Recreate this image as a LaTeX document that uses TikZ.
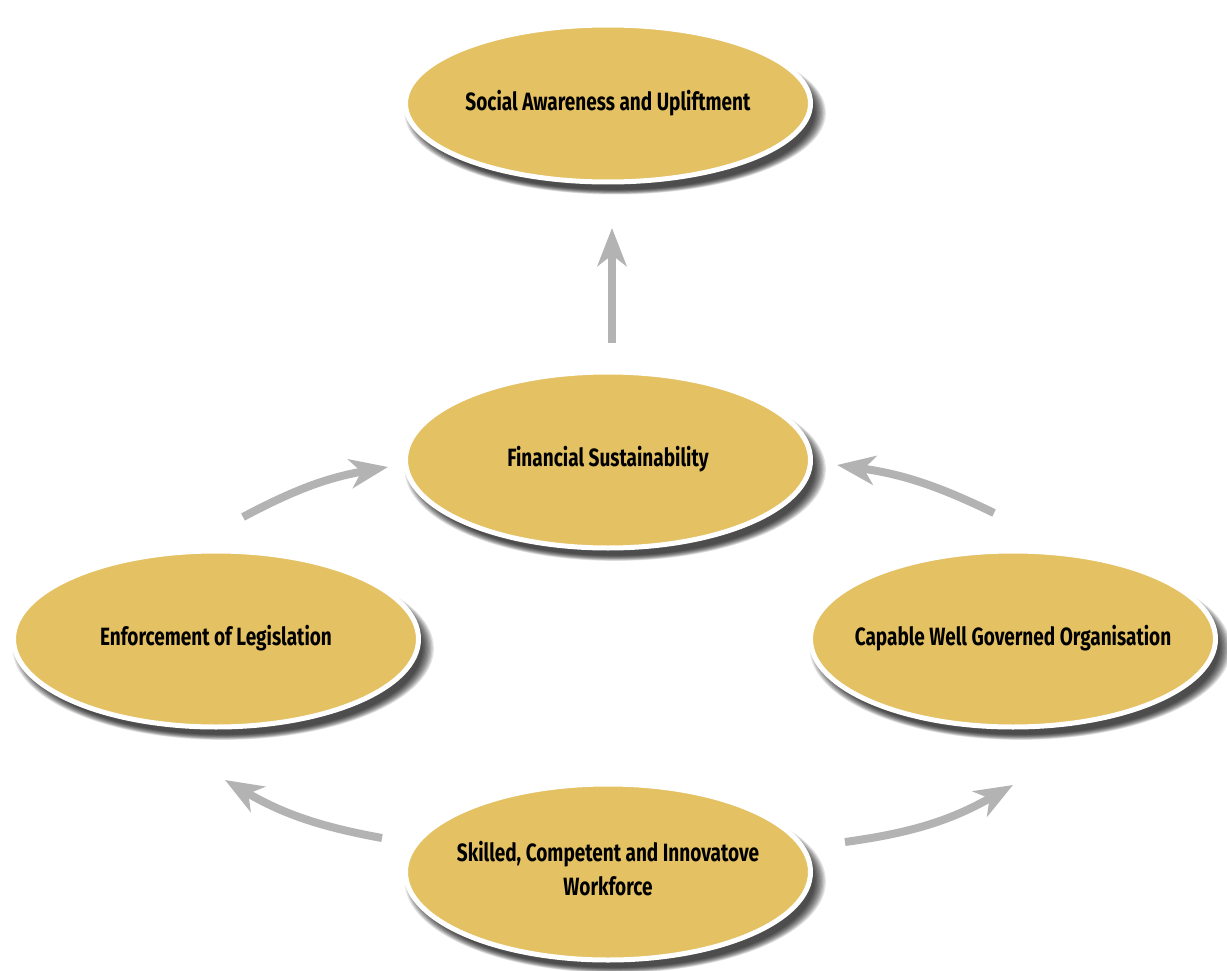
\documentclass[tikz,border=0pt]{standalone}
\usepackage{fontspec}
\setmainfont{Fira Sans}[FakeStretch=0.76]
\usetikzlibrary{shapes.geometric,shadows,arrows.meta}
\definecolor{gold}{HTML}{E4C163}
\definecolor{arrowgray}{HTML}{B3B3B3}
\newcommand\ovaltext[1]{\makebox[0pt]{\begin{tabular}{@{}c@{}}#1\end{tabular}}}
\tikzset{
  sh/.style={general shadow={draw=none,fill=black,fill opacity=0.11,shadow xshift=7pt,shadow yshift=-9pt,shadow scale=#1}},
  softshadow/.style={sh=1.04, sh=1.034, sh=1.028, sh=1.022, sh=1.016, sh=1.010, sh=1.004, sh=0.998, sh=0.992, sh=0.986},
  oval/.style={ellipse, softshadow, fill=gold, draw=white, line width=5pt,
    minimum width=405pt, minimum height=176pt, inner sep=0pt,
    text=black, font=\fontsize{25}{34}\selectfont\bfseries},
  flow/.style={draw=arrowgray, line width=8pt,
    -{Stealth[length=38pt,width=29pt,inset=11pt]}}
}
\begin{document}
\begin{tikzpicture}[x=1pt,y=-1pt]
\useasboundingbox[fill=white] (0,0) rectangle (1227,971);
\node[oval, minimum height=157pt] (top) at (608,103.5) {\ovaltext{Social Awareness and Upliftment}};
\node[oval] (fin) at (608,460) {\ovaltext{Financial Sustainability}};
\node[oval] (enf) at (216,639) {\ovaltext{Enforcement of Legislation}};
\node[oval] (cap) at (1013,639) {\ovaltext{Capable Well Governed Organisation}};
\node[oval] (skl) at (608,872) {\ovaltext{Skilled, Competent and Innovatove\\Workforce}};
\coordinate (a0s) at (612,343);
\coordinate (a0e) at (612,228);
\coordinate (a1s) at (243,517);
\coordinate (a1e) at (388,467);
\coordinate (a2s) at (994,513);
\coordinate (a2e) at (837,465);
\coordinate (a3s) at (382,838);
\coordinate (a3e) at (225,780);
\coordinate (a4s) at (845,842);
\coordinate (a4e) at (1013,785);
\draw[flow] (a0s) -- (a0e);
\draw[flow] (a1s) to[bend left=9] (a1e);
\draw[flow] (a2s) to[bend right=9] (a2e);
\draw[flow] (a3s) to[bend left=10] (a3e);
\draw[flow] (a4s) to[bend right=11] (a4e);
\end{tikzpicture}
\end{document}
